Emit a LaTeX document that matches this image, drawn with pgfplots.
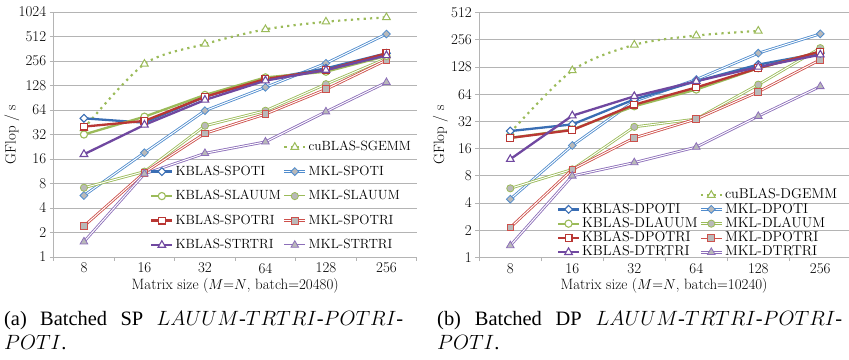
\documentclass[border=0pt]{standalone}
\usepackage{pgfplots}
\pgfplotsset{compat=1.18}
\usepackage{fontspec}
\newfontfamily\capfont{Liberation Serif}

\definecolor{gridc}{RGB}{180,180,180}
\definecolor{cblue}{RGB}{58,110,180}
\definecolor{mblue}{RGB}{80,140,205}
\definecolor{cgreen}{RGB}{155,187,89}
\definecolor{cred}{RGB}{185,55,52}
\definecolor{mred}{RGB}{205,80,75}
\definecolor{cpurple}{RGB}{112,72,160}
\definecolor{mpurple}{RGB}{140,110,185}
\definecolor{mfill}{RGB}{185,185,185}

% diamond with equal width and height
\pgfdeclareplotmark{rdia*}{%
  \pgfpathmoveto{\pgfqpoint{0pt}{\pgfplotmarksize}}%
  \pgfpathlineto{\pgfqpoint{\pgfplotmarksize}{0pt}}%
  \pgfpathlineto{\pgfqpoint{0pt}{-\pgfplotmarksize}}%
  \pgfpathlineto{\pgfqpoint{-\pgfplotmarksize}{0pt}}%
  \pgfpathclose
  \pgfusepathqfillstroke}

\pgfplotstableread{
x cub kpoti mpoti klauum mlauum kpotri mpotri ktrtri mtrtri
0 38  50.6 5.7   32  7.1  40  2.4  18.3 1.54
1 235 44.7 19.1  53  11.2 47  10.9 42   10.5
2 414 93   62.8  98  41   93  33   85   18.8
3 627 152  121.6 161 62.7 154 57   147  26
4 777 208  240   189 133  198 115  198  61
5 880 318  549   295 275  318 263  300  140
}\sptable

\pgfplotstableread{
x cub kpoti mpoti klauum mlauum kpotri mpotri ktrtri mtrtri
0 24  25   4.4  21  5.8  21   2.14 12.2 1.35
1 117 29.6 17.3 26  9.4  25.6 9.4  37   7.96
2 225 56   53.5 47  27.8 49   21   60.6 11.2
3 285 89   93   72  34   76   34   89   16.6
4 321 136  182  124 81.6 124  68   128  36.5
5 nan 182  298  190 207  190  154  175  78
}\dptable

\tikzset{
  kbl/.style={draw=#1, line width=2.3bp, solid, mark options={fill=white, draw=#1, line width=1.1bp, solid}},
  mklm/.style={mark options={fill=mfill, draw=#1, line width=0.8bp, solid}},
  mdia/.style={mark=rdia*, mark size=3.9bp},
  mcirc/.style={mark=*, mark size=3.6bp},
  msq/.style={mark=square*, mark size=3.4bp},
  mtri/.style={mark=triangle*, mark size=4.4bp},
  cub/.style={draw=cgreen, line width=2.2bp, dash pattern=on 2.2bp off 4.2bp, smooth, mark=triangle*, mark size=4.4bp, mark options={fill=white, draw=cgreen, line width=1bp, solid}},
}

\pgfplotsset{
  mklimg/.style={legend image code/.code={%
    \draw[##1, mark=none] (0bp,0bp) -- (21bp,0bp);
    \draw[white, line width=1bp] (0bp,0bp) -- (21bp,0bp);
    \draw[##1] plot coordinates {(10.5bp,0bp)};}},
  every axis/.append style={
    scale only axis,
    anchor=south west,
    xmin=-0.5,
    axis x line*=bottom, axis y line*=left,
    axis line style={draw=gridc, line width=0.8bp, -},
    ymajorgrids, grid style={draw=gridc, line width=0.8bp},
    xtick={0,1,2,3,4,5}, xticklabels={8,16,32,64,128,256},
    major x tick style={draw=none},
    minor xtick={-0.5,0.5,1.5,2.5,3.5,4.5,5.5},
    tick align=outside,
    major tick length=4bp, minor tick length=4bp,
    tick style={draw=gridc, line width=0.8bp},
    ticklabel style={font=\fontsize{15}{15}\selectfont},
    xticklabel style={yshift=1.5bp},
    legend cell align=left,
    legend image code/.code={\draw[mark repeat=2,mark phase=2] plot coordinates {(0bp,0bp) (10.5bp,0bp) (21bp,0bp)};},
  },
}

% MKL series: double line (colour, white core) and grey-filled marks
\newcommand\mklplot[4]{%
  \addplot[draw=#1, line width=2.7bp, mark=none, forget plot] table[x=x, y=#4] {#3};
  \addplot[draw=white, line width=1bp, mark=none, forget plot] table[x=x, y=#4] {#3};
  \addplot[draw=#1, only marks, #2, mklm=#1, forget plot] table[x=x, y=#4] {#3};
}

\begin{document}
\begin{tikzpicture}
\useasboundingbox (-53.7bp,-103bp) rectangle (795.3bp,257bp);

% ---------------- left: SP ----------------
\begin{axis}[at={(0bp,0bp)},
  ymode=log, log basis y=2, ymin=1,
  width=363bp, height=245bp, xmax=5.5, ymax=1024,
  ytick={1,2,4,8,16,32,64,128,256,512,1024},
  yticklabels={1,2,4,8,16,32,64,128,256,512,1024},
  xlabel={Matrix size ($M$=$N$, batch=20480)},
  ylabel={GFlop / s},
  every axis x label/.style={at={(axis description cs:0.5,-0.116)}, anchor=center, font=\fontsize{15}{15}\selectfont},
  every axis y label/.style={at={(axis description cs:-0.115,0.5)}, rotate=90, anchor=center, font=\fontsize{15}{15}\selectfont},
  legend columns=2,
  legend style={draw=none, fill=none, inner sep=0bp, at={(axis description cs:0.2653,0.478)}, anchor=north west,
    font=\fontsize{13.4}{14}\selectfont, row sep=10.5bp, column sep=1bp,
    nodes={inner sep=1bp, text height=9.5bp, text depth=2.5bp}},
]
\addlegendimage{empty legend}\addlegendentry{}
\addlegendimage{cub}\addlegendentry{cuBLAS-SGEMM}
\addlegendimage{kbl=cblue, mdia}\addlegendentry{KBLAS-SPOTI}
\addlegendimage{mklimg, draw=mblue, line width=2.7bp, mdia, mklm=mblue}\addlegendentry{MKL-SPOTI}
\addlegendimage{kbl=cgreen, mcirc}\addlegendentry{KBLAS-SLAUUM}
\addlegendimage{mklimg, draw=cgreen, line width=2.7bp, mcirc, mklm=cgreen}\addlegendentry{MKL-SLAUUM}
\addlegendimage{kbl=cred, msq}\addlegendentry{KBLAS-SPOTRI}
\addlegendimage{mklimg, draw=mred, line width=2.7bp, msq, mklm=mred}\addlegendentry{MKL-SPOTRI}
\addlegendimage{kbl=cpurple, mtri}\addlegendentry{KBLAS-STRTRI}
\addlegendimage{mklimg, draw=mpurple, line width=2.7bp, mtri, mklm=mpurple}\addlegendentry{MKL-STRTRI}

\addplot[cub, forget plot] table[x=x, y=cub] {\sptable};
\mklplot{mblue}{mdia}{\sptable}{mpoti}
\mklplot{cgreen}{mcirc}{\sptable}{mlauum}
\mklplot{mred}{msq}{\sptable}{mpotri}
\mklplot{mpurple}{mtri}{\sptable}{mtrtri}
\addplot[kbl=cblue, mdia, forget plot] table[x=x, y=kpoti] {\sptable};
\addplot[kbl=cgreen, mcirc, forget plot] table[x=x, y=klauum] {\sptable};
\addplot[kbl=cred, msq, forget plot] table[x=x, y=kpotri] {\sptable};
\addplot[kbl=cpurple, mtri, forget plot] table[x=x, y=ktrtri] {\sptable};
\end{axis}

% ---------------- right: DP ----------------
\begin{axis}[at={(425.6bp,-0.3bp)},
  ymode=log, log basis y=2, ymin=1,
  width=369.5bp, height=244.7bp, xmax=5.46, ymax=512,
  ytick={1,2,4,8,16,32,64,128,256,512},
  yticklabels={1,2,4,8,16,32,64,128,256,512},
  xlabel={Matrix size ($M$=$N$, batch=10240)},
  ylabel={GFlop / s},
  every axis x label/.style={at={(axis description cs:0.5,-0.116)}, anchor=center, font=\fontsize{15}{15}\selectfont},
  every axis y label/.style={at={(axis description cs:-0.1055,0.5)}, rotate=90, anchor=center, font=\fontsize{15}{15}\selectfont},
  legend columns=2,
  legend style={draw=none, fill=none, inner sep=0bp, at={(axis description cs:0.2095,0.2844)}, anchor=north west,
    font=\fontsize{14.3}{15}\selectfont, row sep=0bp, column sep=1bp,
    nodes={inner sep=0.9bp, text height=9.9bp, text depth=2.6bp}},
]
\addlegendimage{empty legend}\addlegendentry{}
\addlegendimage{cub}\addlegendentry{cuBLAS-DGEMM}
\addlegendimage{kbl=cblue, mdia}\addlegendentry{KBLAS-DPOTI}
\addlegendimage{mklimg, draw=mblue, line width=2.7bp, mdia, mklm=mblue}\addlegendentry{MKL-DPOTI}
\addlegendimage{kbl=cgreen, mcirc}\addlegendentry{KBLAS-DLAUUM}
\addlegendimage{mklimg, draw=cgreen, line width=2.7bp, mcirc, mklm=cgreen}\addlegendentry{MKL-DLAUUM}
\addlegendimage{kbl=cred, msq}\addlegendentry{KBLAS-DPOTRI}
\addlegendimage{mklimg, draw=mred, line width=2.7bp, msq, mklm=mred}\addlegendentry{MKL-DPOTRI}
\addlegendimage{kbl=cpurple, mtri}\addlegendentry{KBLAS-DTRTRI}
\addlegendimage{mklimg, draw=mpurple, line width=2.7bp, mtri, mklm=mpurple}\addlegendentry{MKL-DTRTRI}

\addplot[cub, forget plot] table[x=x, y=cub] {\dptable};
\mklplot{mblue}{mdia}{\dptable}{mpoti}
\mklplot{cgreen}{mcirc}{\dptable}{mlauum}
\mklplot{mred}{msq}{\dptable}{mpotri}
\mklplot{mpurple}{mtri}{\dptable}{mtrtri}
\addplot[kbl=cblue, mdia, forget plot] table[x=x, y=kpoti] {\dptable};
\addplot[kbl=cgreen, mcirc, forget plot] table[x=x, y=klauum] {\dptable};
\addplot[kbl=cred, msq, forget plot] table[x=x, y=kpotri] {\dptable};
\addplot[kbl=cpurple, mtri, forget plot] table[x=x, y=ktrtri] {\dptable};
\end{axis}

% ---------------- captions ----------------
\node[anchor=north west, inner sep=0pt, text width=399bp, align=justify,
      font=\capfont\fontsize{20.5}{23.3}\selectfont] at (-49.7bp,-53.7bp)
  {\rule{0pt}{15bp}(a) Batched SP $LAUUM$-$TRTRI$-$POTRI$-\linebreak $POTI$.};
\node[anchor=north west, inner sep=0pt, text width=405bp, align=justify,
      font=\capfont\fontsize{20.5}{23.3}\selectfont] at (383.3bp,-53.7bp)
  {\rule{0pt}{15bp}(b) Batched DP $LAUUM$-$TRTRI$-$POTRI$-\linebreak $POTI$.};
\end{tikzpicture}
\end{document}
